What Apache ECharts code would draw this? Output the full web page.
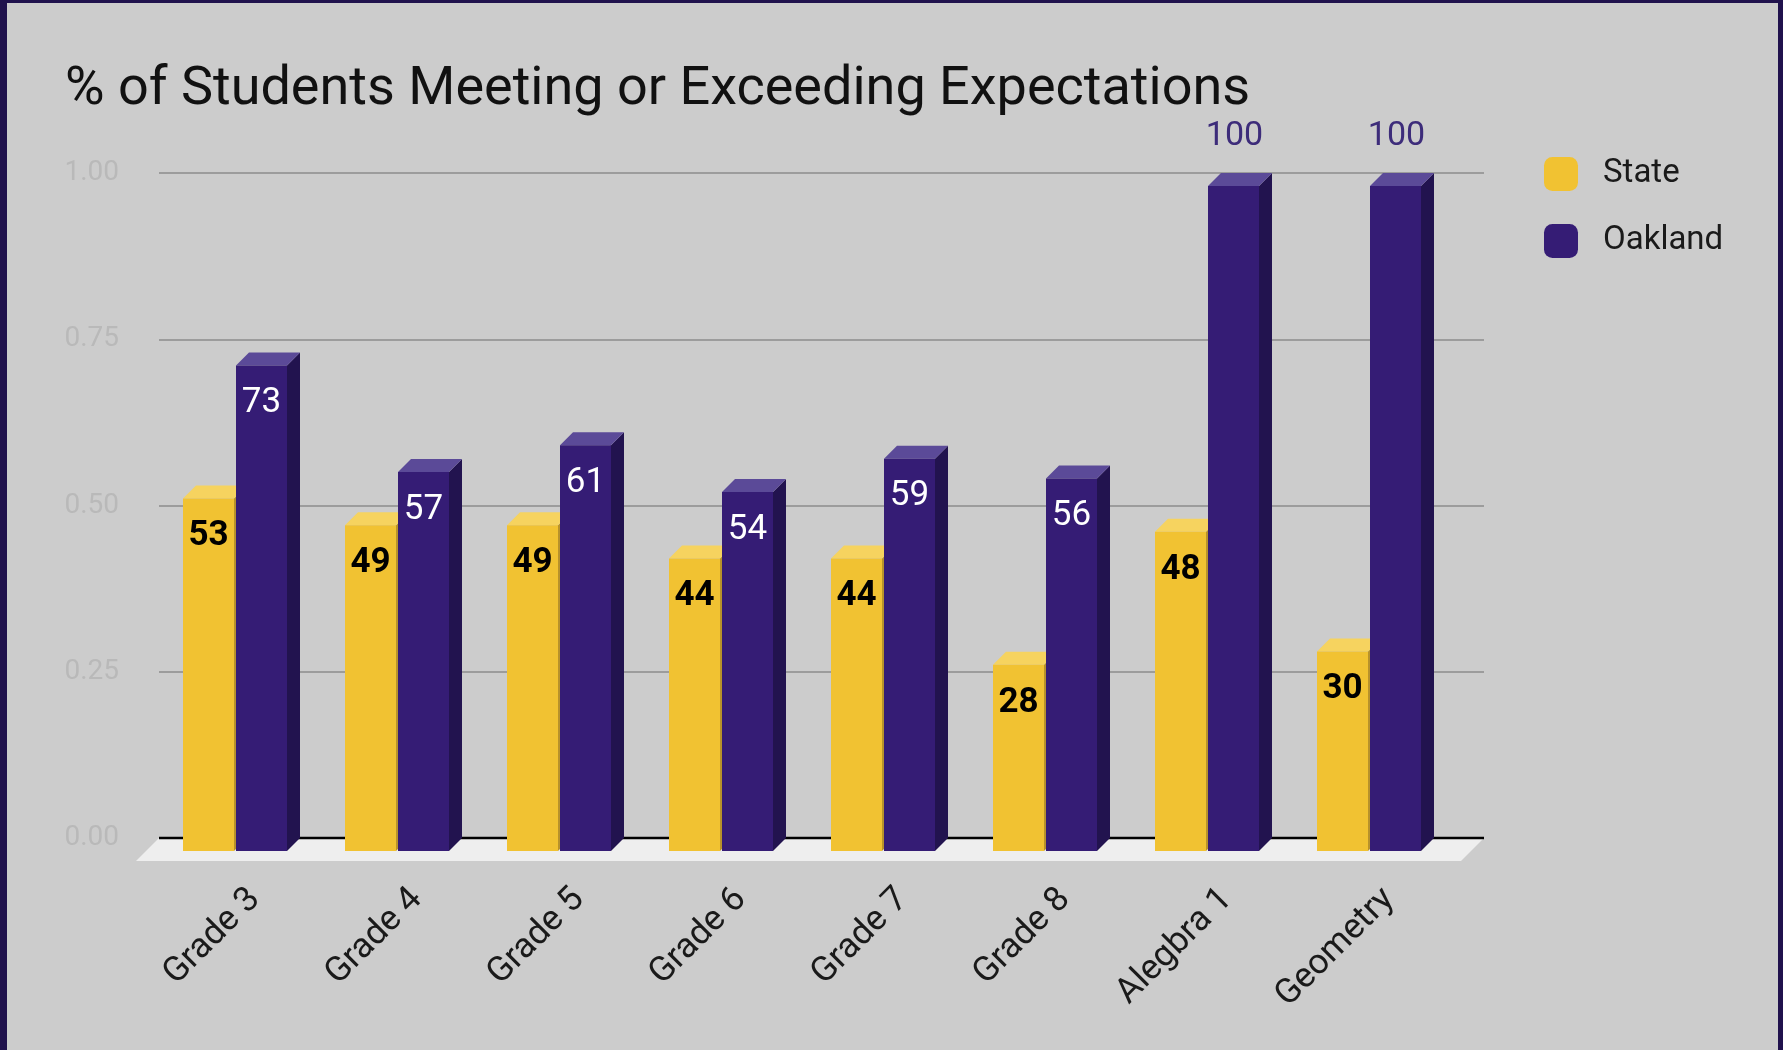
<!DOCTYPE html>
<html>
<head>
<meta charset="utf-8">
<script src="https://cdn.jsdelivr.net/npm/echarts@6/dist/echarts.min.js"></script>
<style>
html,body{margin:0;padding:0;background:#cccccc;}
#chart{width:1783px;height:1050px;}
</style>
</head>
<body>
<div id="chart"></div>
<script>
// ---- data ----
const categories = ['Grade 3','Grade 4','Grade 5','Grade 6','Grade 7','Grade 8','Alegbra 1','Geometry'];
const stateValues = [0.53,0.49,0.49,0.44,0.44,0.28,0.48,0.30];
const oaklandValues = [0.73,0.57,0.61,0.54,0.59,0.56,1.00,1.00];
const seriesNames = ['State','Oakland'];
const yMin = 0, yMax = 1, yStep = 0.25;

// ---- styles ----
const FONT = 'Roboto, "Noto Sans", sans-serif';
const W = 51, G = 2, D = 13, FLOOR = 23;
const palette = [
  {front:'#f1c232', top:'#f6d35f', side:'#b8922a', label:'#000000', weight:'bold'},
  {front:'#351c75', top:'#5b4a98', side:'#22134f', label:'#ffffff', weight:'normal'}
];

function barRenderer(s){
  return function(params, api){
    const i = api.value(0), v = api.value(1);
    const p = api.coord([i, v]);
    const p0 = api.coord([i, 0]);
    const c = p[0];
    let xl, xr;
    if (s === 0){ xr = c - D - G/2; xl = xr - W; }
    else { xl = c - D + G/2; xr = xl + W; }
    const bt = p[1], ft = p[1] + D, fb = p0[1] + D, bb = p0[1];
    const col = palette[s];
    const children = [
      {type:'polygon', shape:{points:[[xr,ft],[xr+D,bt],[xr+D,bb],[xr,fb]]}, style:{fill:col.side}},
      {type:'polygon', shape:{points:[[xl,ft],[xr,ft],[xr+D,bt],[xl+D,bt]]}, style:{fill:col.top}},
      {type:'rect', shape:{x:xl, y:ft, width:W, height:fb-ft}, style:{fill:col.front}}
    ];
    const txt = String(Math.round(v*100));
    const cx = (xl + xr)/2;
    if (v >= 0.95){
      children.push({type:'text', style:{text:txt, x:cx+1, y:bt-37, fill:'#3d2c7a', font:'normal 34px ' + FONT, align:'center', verticalAlign:'middle', textAlign:'center', textVerticalAlign:'middle'}});
    } else {
      children.push({type:'text', style:{text:txt, x:cx, y:ft+38, fill:col.label, font:col.weight + ' 35px ' + FONT, align:'center', verticalAlign:'middle', textAlign:'center', textVerticalAlign:'middle'}});
    }
    return {type:'group', children};
  };
}

const chart = echarts.init(document.getElementById('chart'));
const option = {
  backgroundColor:'#cccccc',
  animation:false,
  textStyle:{fontFamily:FONT},
  title:{
    text:'% of Students Meeting or Exceeding Expectations',
    left:60, top:58,
    textStyle:{fontFamily:FONT, fontSize:54, fontWeight:'normal', color:'#111111'}
  },
  legend:{
    orient:'vertical', left:1539, top:152,
    itemWidth:34, itemHeight:34, itemGap:33,
    icon:'roundRect',
    data:seriesNames,
    textStyle:{fontFamily:FONT, fontSize:33, color:'#1a1a1a', padding:[0,0,0,20]}
  },
  graphic:[
    {type:'rect', left:0, top:0, shape:{width:7, height:1050}, style:{fill:'#20124d'}, z:100},
    {type:'rect', left:0, top:0, shape:{width:1783, height:3}, style:{fill:'#20124d'}, z:100},
    {type:'rect', right:0, top:0, shape:{width:5, height:1050}, style:{fill:'#20124d'}, z:100}
  ],
  grid:[
    {left:159, right:299, top:173, bottom:212},
    {left:167, right:320, top:173, bottom:212}
  ],
  xAxis:[
    {gridIndex:0, type:'value', min:0, max:1, show:false},
    {gridIndex:1, type:'category', data:categories,
     axisLine:{show:false}, axisTick:{show:false},
     axisLabel:{rotate:45, margin:49, fontSize:35, color:'#1a1a1a', fontFamily:FONT, interval:0,
                verticalAlign:'top', lineHeight:20}}
  ],
  yAxis:[
    {gridIndex:0, type:'value', min:yMin, max:yMax, interval:yStep,
     axisLine:{show:false}, axisTick:{show:false},
     axisLabel:{formatter:v=>v.toFixed(2), fontSize:28, color:'#b9b9b9', margin:40, fontFamily:FONT},
     splitLine:{lineStyle:{color:'#9c9c9c', width:2}}},
    {gridIndex:1, type:'value', min:yMin, max:yMax, interval:yStep, show:false, splitLine:{show:false}}
  ],
  series:[
    {type:'custom', xAxisIndex:0, yAxisIndex:0, silent:true, z:1,
     data:[[0,0]],
     renderItem:function(params, api){
       const a = api.coord([0,0]), b = api.coord([1,0]);
       return {type:'group', children:[
         {type:'polygon', shape:{points:[[a[0],a[1]],[b[0],b[1]],[b[0]-FLOOR,b[1]+FLOOR],[a[0]-FLOOR,a[1]+FLOOR]]}, style:{fill:'#eeeeee'}},
         {type:'line', shape:{x1:a[0], y1:a[1], x2:b[0], y2:b[1]}, style:{stroke:'#000000', lineWidth:2.5}}
       ]};
     }},
    {name:seriesNames[0], type:'custom', xAxisIndex:1, yAxisIndex:1, z:2,
     itemStyle:{color:palette[0].front},
     data:stateValues.map((v,i)=>[i,v]),
     renderItem:barRenderer(0)},
    {name:seriesNames[1], type:'custom', xAxisIndex:1, yAxisIndex:1, z:3,
     itemStyle:{color:palette[1].front},
     data:oaklandValues.map((v,i)=>[i,v]),
     renderItem:barRenderer(1)}
  ]
};
chart.setOption(option);
</script>
</body>
</html>
